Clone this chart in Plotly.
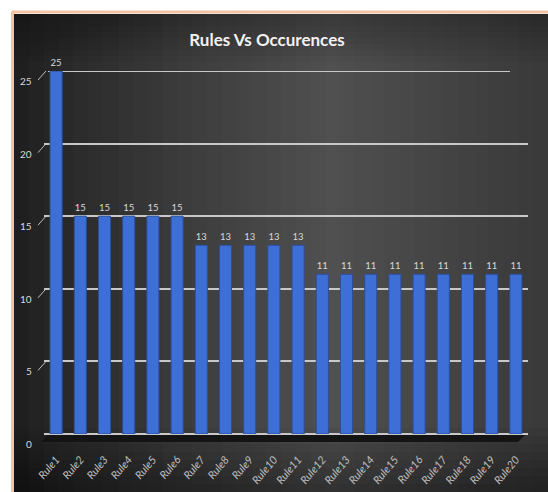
import plotly.graph_objects as go

rules = [f"Rule{i}" for i in range(1, 21)]
occurrences = [25, 15, 15, 15, 15, 15, 13, 13, 13, 13, 13, 11, 11, 11, 11, 11, 11, 11, 11, 11]
y_ticks = [0, 5, 10, 15, 20, 25]
title_text = "Rules Vs Occurences"

W, H = 548, 492
ML, MR, MT, MB = 44, 20, 71, 58
PW = W - ML - MR
PH = H - MT - MB
YMAX = 25

def px_x(p):
    return (p - ML) / PW

def px_y(p):
    return (H - MB - p) / PH

fig = go.Figure()
fig.add_trace(go.Bar(
    x=rules, y=occurrences,
    marker=dict(color="#3d6fd6", line=dict(color="#2b4f98", width=1)),
    text=[str(v) for v in occurrences], textposition="outside",
    textfont=dict(size=9.5, color="#d9d9d9", family="Lato"),
    cliponaxis=False, width=0.5,
))

shapes = []
x_left, x_right = 14, 548
n = 36
def lerp(a, b, t):
    return a + (b - a) * t
for i in range(n):
    t = i / (n - 1)
    if t < 0.6:
        g = lerp(0x1f, 0x50, (t / 0.6) ** 0.8)
    else:
        g = lerp(0x50, 0x3a, (t - 0.6) / 0.4)
    g = int(g)
    col = f"rgb({g},{g},{g})"
    xa = x_left + (x_right - x_left) * i / n
    xb = x_left + (x_right - x_left) * (i + 1) / n + 1
    shapes.append(dict(type="rect", xref="paper", yref="paper",
                       x0=px_x(xa), x1=px_x(xb), y0=px_y(492), y1=px_y(14),
                       fillcolor=col, line=dict(width=0), layer="below"))
for i in range(8):
    a = 0.05
    shapes.append(dict(type="rect", xref="paper", yref="paper",
                       x0=px_x(14), x1=px_x(548), y0=px_y(492), y1=px_y(492 - 8 * (i + 1)),
                       fillcolor=f"rgba(0,0,0,{a})", line=dict(width=0), layer="below"))
    shapes.append(dict(type="rect", xref="paper", yref="paper",
                       x0=px_x(14), x1=px_x(548), y0=px_y(14 + 6 * (i + 1)), y1=px_y(14),
                       fillcolor=f"rgba(0,0,0,{a*0.6})", line=dict(width=0), layer="below"))
shapes.append(dict(type="line", xref="paper", yref="paper",
                   x0=px_x(12), x1=px_x(548), y0=px_y(12), y1=px_y(12),
                   line=dict(color="#f2c4a4", width=3)))
shapes.append(dict(type="line", xref="paper", yref="paper",
                   x0=px_x(12.5), x1=px_x(12.5), y0=px_y(12), y1=px_y(492),
                   line=dict(color="#f2c4a4", width=3)))
shapes.append(dict(type="path", xref="paper", yref="paper",
                   path=f"M {px_x(48)},{px_y(434)} L {px_x(526)},{px_y(434)} L {px_x(518)},{px_y(442)} L {px_x(42)},{px_y(442)} Z",
                   fillcolor="#141414", line=dict(width=0), layer="below"))
shapes.append(dict(type="line", xref="paper", yref="y", x0=px_x(48), x1=px_x(510),
                   y0=YMAX, y1=YMAX, line=dict(color="#c8c8c8", width=2), layer="below"))
for v in y_ticks:
    shapes.append(dict(type="line", xref="paper", yref="y",
                       x0=px_x(38), x1=px_x(46), y0=v - 9 * YMAX / PH, y1=v,
                       line=dict(color="#bfbfbf", width=1)))

annotations = []
for v in y_ticks:
    annotations.append(dict(x=px_x(34), y=v, xref="paper", yref="y",
                            text=str(v), showarrow=False, xanchor="right", yanchor="middle",
                            yshift=-10, font=dict(size=10, color="#d9d9d9", family="Lato")))

fig.update_layout(
    width=W, height=H,
    margin=dict(l=ML, r=MR, t=MT, b=MB, autoexpand=False),
    paper_bgcolor="white", plot_bgcolor="rgba(0,0,0,0)",
    showlegend=False,
    bargap=0.5,
    title=dict(text=f"<b>{title_text}</b>", x=267 / W, xref="container", xanchor="center",
               y=1 - 40 / H, yref="container", yanchor="middle",
               font=dict(size=17, color="#f2f2f2", family="Lato")),
    shapes=shapes, annotations=annotations,
    xaxis=dict(showgrid=False, showline=False, zeroline=False, tickangle=-50,
               tickfont=dict(size=11, color="#bfbfbf", family="Lato", style="italic"),
               ticks="", ticklabelstandoff=16, automargin=False),
    yaxis=dict(range=[0, YMAX], tickvals=y_ticks, showticklabels=False,
               showgrid=True, gridcolor="#c8c8c8", gridwidth=2,
               zeroline=True, zerolinecolor="#c8c8c8", zerolinewidth=2, showline=False,
               automargin=False),
)

fig.write_html("out.html")
